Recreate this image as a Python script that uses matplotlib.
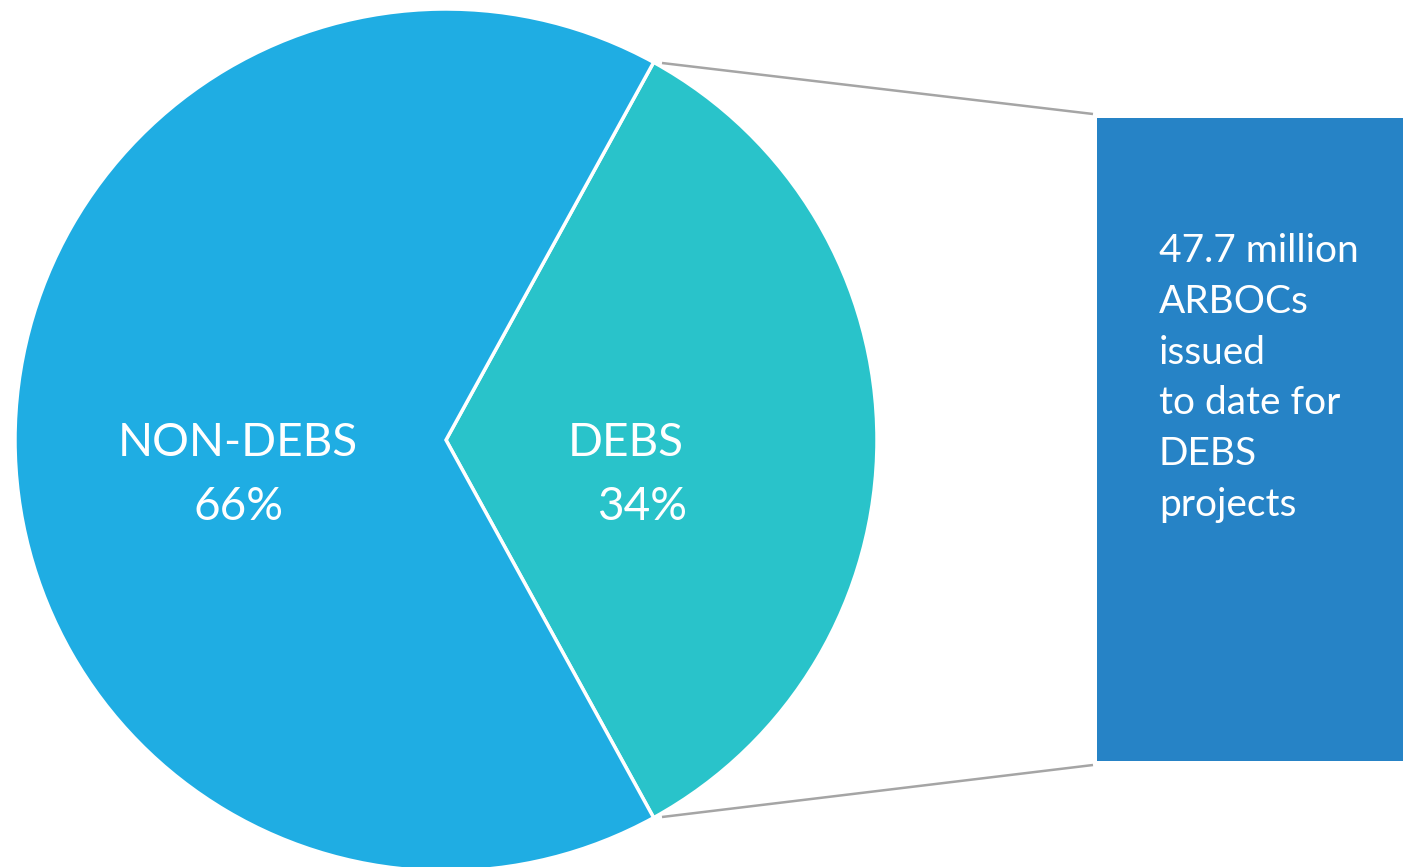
import matplotlib
matplotlib.use("Agg")
import matplotlib.pyplot as plt
from matplotlib.patches import Rectangle

categories = ["DEBS", "NON-DEBS"]
shares = [34, 66]
pct_labels = ["34%", "66%"]
box_lines = ["47.7 million", "ARBOCs", "issued", "to date for", "DEBS", "projects"]

colors = ["#29C3CA", "#1FADE3"]
box_color = "#2683C6"
line_color = "#A5A5A5"
FONT = "Lato"

W, H = 1403, 867
fig = plt.figure(figsize=(W / 100, H / 100), dpi=100)
ax = fig.add_axes([0, 0, 1, 1])
ax.set_xlim(0, W)
ax.set_ylim(H, 0)
ax.set_aspect("equal")
ax.axis("off")

cx, cy, r = 446, 440, 431
start = -shares[0] / sum(shares) * 360 / 2
wedges, _ = ax.pie(shares, colors=colors, startangle=start, counterclock=True,
                   center=(cx, cy), radius=r, frame=True,
                   wedgeprops=dict(edgecolor="white", linewidth=2.5))
ax.set_xlim(0, W)
ax.set_ylim(H, 0)
ax.axis("off")

# labels
ax.text(626, 456, categories[0], color="white", fontsize=33, family=FONT,
        ha="center", va="baseline")
ax.text(642, 520, pct_labels[0], color="white", fontsize=33, family=FONT,
        ha="center", va="baseline")
ax.text(238, 456, categories[1], color="white", fontsize=33, family=FONT,
        ha="center", va="baseline")
ax.text(238, 520, pct_labels[1], color="white", fontsize=33, family=FONT,
        ha="center", va="baseline")

# box
bx0, by0, bx1, by1 = 1097, 118, 1403, 761
ax.add_patch(Rectangle((bx0, by0), bx1 - bx0, by1 - by0, facecolor=box_color,
                       edgecolor="none"))
for i, line in enumerate(box_lines):
    ax.text(1159, 262 + i * 50.8, line, color="white", fontsize=28, family=FONT,
            ha="left", va="baseline")

# connector lines
ax.plot([662, 1093], [63, 114], color=line_color, lw=1.8, solid_capstyle="butt")
ax.plot([662, 1093], [817, 765], color=line_color, lw=1.8, solid_capstyle="butt")

fig.savefig("out.png", dpi=100, facecolor="white")
